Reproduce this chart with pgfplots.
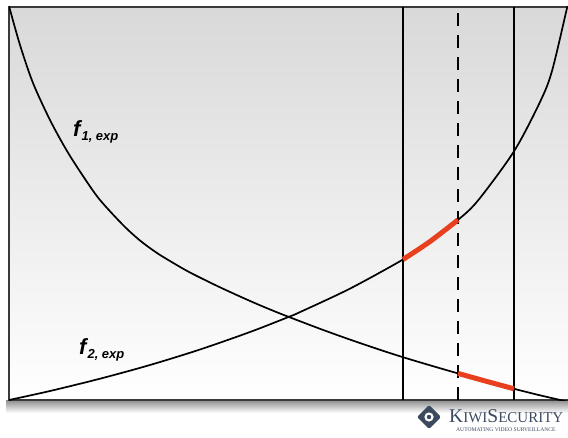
\documentclass[border=0pt]{standalone}
\usepackage{pgfplots}
\pgfplotsset{compat=1.18}
\usepackage{fontspec}
\setmainfont{Liberation Sans}
\newfontfamily\logofont{Liberation Serif}
\definecolor{redseg}{HTML}{E8401F}
\definecolor{frame}{HTML}{3A3A3A}
\definecolor{logoblue}{HTML}{3B4A5E}
\begin{document}
\begin{tikzpicture}[x=1pt,y=1pt]
\useasboundingbox (0,0) rectangle (568,437);
% drop shadow under the box
\shade[top color=black!45, bottom color=white] (6,37) rectangle (568,24);
\begin{axis}[
  at={(9pt,37pt)}, anchor=south west,
  scale only axis, width=560pt, height=393pt,
  xmin=9, xmax=569, ymin=0, ymax=393,
  xtick=\empty, ytick=\empty,
  axis line style={frame, line width=1.5pt},
  axis background/.style={top color=black!15, bottom color=white},
  clip=true,
]
% f1, exp (decreasing)
\addplot[black, line width=1.7pt, smooth, tension=0.5] coordinates {
 (9,394) (20,355) (33,317) (50,280) (67,249) (85,221) (100,200) (123,175)
 (140,159.5) (157,147) (175,136) (190,127.5) (210,117.5) (223,111.3)
 (240,103.5) (257,96) (275,88.5) (289,83) (320,71.2) (350,60.4) (380,50.2)
 (403,42.8) (430,34.7) (458,26.6) (486,18.8) (514,11.2) (540,4.7) (569,-2)
};
% f2, exp (increasing)
\addplot[black, line width=1.7pt, smooth, tension=0.5] coordinates {
 (9,0) (50,9) (100,21.3) (150,35) (200,50.5) (250,68) (289,83.2) (300,87.9)
 (350,111.4) (403,140.5) (430,158.5) (458,180.1) (478,199.5) (514,248.7)
 (540,298) (552,329) (567,392) (570,405)
};
% vertical lines
\addplot[black, line width=2pt] coordinates {(403,0) (403,393)};
\addplot[black, line width=2pt] coordinates {(514,0) (514,393)};
\addplot[black, line width=2pt, dash pattern=on 13pt off 9pt] coordinates {(458,0) (458,387)};
% red segments
\addplot[redseg, line width=5pt, smooth, tension=0.5] coordinates {
 (403,140.5) (430,158.5) (458,180.1)
};
\addplot[redseg, line width=5pt, smooth, tension=0.5] coordinates {
 (458,26.6) (486,18.8) (514,11.2)
};
\node[anchor=base west, inner sep=0pt] at (axis cs:73,263)
  {\fontsize{22}{22}\selectfont\bfseries\itshape f\kern1pt\raisebox{-4pt}{\fontsize{13}{13}\selectfont 1, exp}};
\node[anchor=base west, inner sep=0pt] at (axis cs:79,46)
  {\fontsize{22}{22}\selectfont\bfseries\itshape f\kern1pt\raisebox{-4pt}{\fontsize{13}{13}\selectfont 2, exp}};
\end{axis}
% logo
\fill[logoblue, rounded corners=2pt] (429,32) -- (441,20) -- (429,8) -- (417,20) -- cycle;
\fill[white] (429,20) circle (4.6);
\fill[logoblue] (429,20) circle (2.2);
\node[anchor=base west, inner sep=0pt, text=logoblue] at (449,15)
  {\logofont\fontsize{19.5}{19.5}\selectfont K\fontsize{15}{15}\selectfont IWI\fontsize{19.5}{19.5}\selectfont S\fontsize{15}{15}\selectfont ECURITY};
\node[anchor=base west, inner sep=0pt, text=logoblue] at (456,5.5)
  {\logofont\fontsize{5.6}{5.6}\selectfont AUTOMATING VIDEO SURVEILLANCE};
\end{tikzpicture}
\end{document}
